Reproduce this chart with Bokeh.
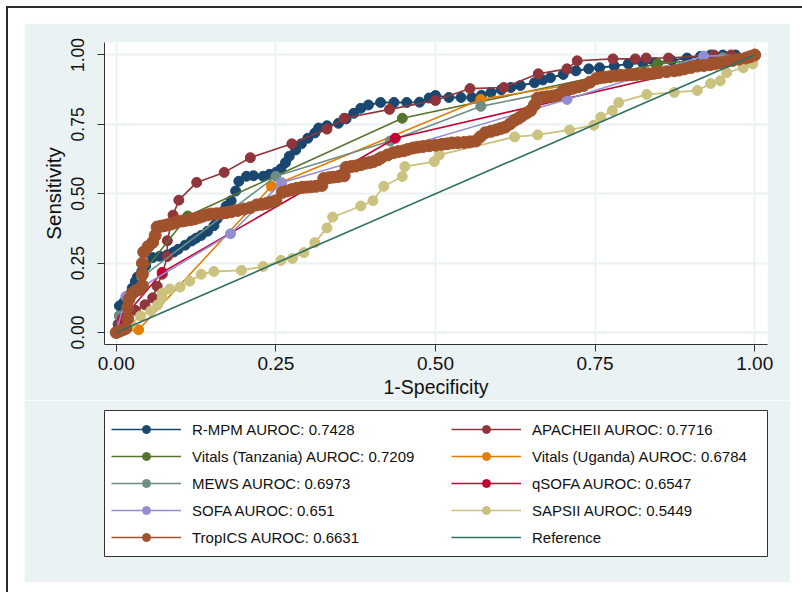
from bokeh.plotting import figure
from bokeh.models import Range1d, Legend, LegendItem, FixedTicker
from bokeh.layouts import column
from bokeh.embed import file_html
from bokeh.resources import INLINE

# ---------------- data ----------------
rmpm_x = [0, 0.003, 0.005, 0.005, 0.012, 0.02, 0.025, 0.03, 0.033, 0.04, 0.046, 0.057, 0.068, 0.08, 0.09, 0.097,
          0.108, 0.118, 0.125, 0.133, 0.143, 0.153, 0.158, 0.164, 0.172, 0.18, 0.187, 0.192, 0.204, 0.215, 0.23,
          0.24, 0.25, 0.258, 0.265, 0.271, 0.281, 0.29, 0.3, 0.311, 0.317, 0.33, 0.348, 0.36, 0.372, 0.383, 0.395,
          0.414, 0.435, 0.455, 0.475, 0.49, 0.5, 0.521, 0.54, 0.557, 0.572, 0.587, 0.603, 0.618, 0.633, 0.655,
          0.668, 0.68, 0.7, 0.72, 0.74, 0.757, 0.78, 0.802, 0.825, 0.844, 0.87, 0.894, 0.915, 0.931, 0.95, 0.97, 1.0]
rmpm_y = [0, 0.03, 0.06, 0.096, 0.11, 0.135, 0.16, 0.185, 0.2, 0.22, 0.24, 0.27, 0.275, 0.28, 0.29, 0.3,
          0.315, 0.33, 0.34, 0.35, 0.365, 0.385, 0.41, 0.427, 0.455, 0.475, 0.51, 0.545, 0.563, 0.565, 0.563,
          0.57, 0.577, 0.59, 0.612, 0.635, 0.658, 0.68, 0.7, 0.719, 0.737, 0.745, 0.754, 0.77, 0.79, 0.808, 0.82,
          0.829, 0.829, 0.829, 0.83, 0.845, 0.854, 0.847, 0.847, 0.847, 0.855, 0.865, 0.875, 0.883, 0.89, 0.9,
          0.91, 0.918, 0.93, 0.943, 0.95, 0.954, 0.96, 0.968, 0.97, 0.972, 0.98, 0.989, 0.995, 1.0, 1.0, 1.0, 1.0]

apache_x = [0, 0.005, 0.012, 0.03, 0.045, 0.057, 0.064, 0.072, 0.08, 0.08, 0.089, 0.098, 0.126, 0.169, 0.21,
            0.275, 0.33, 0.357, 0.428, 0.5, 0.554, 0.607, 0.661, 0.706, 0.722, 0.778, 0.813, 0.83, 0.865, 0.936,
            0.963, 1.0]
apache_y = [0, 0.03, 0.05, 0.08, 0.1, 0.125, 0.167, 0.21, 0.274, 0.331, 0.423, 0.477, 0.541, 0.577, 0.63,
            0.68, 0.733, 0.772, 0.804, 0.836, 0.879, 0.883, 0.932, 0.95, 0.979, 0.986, 0.986, 0.989, 0.989, 1.0,
            1.0, 1.0]

vtz_x = [0, 0.01, 0.04, 0.112, 0.448, 0.848, 1.0]
vtz_y = [0, 0.04, 0.21, 0.42, 0.772, 0.968, 1.0]

vug_x = [0, 0.035, 0.243, 0.571, 1.0]
vug_y = [0, 0.01, 0.527, 0.84, 1.0]

mews_x = [0, 0.005, 0.04, 0.25, 0.429, 0.571, 0.95, 1.0]
mews_y = [0, 0.06, 0.2, 0.563, 0.69, 0.815, 0.99, 1.0]

qsofa_x = [0, 0.01, 0.072, 0.437, 1.0]
qsofa_y = [0, 0.05, 0.217, 0.7, 1.0]

sofa_x = [0, 0.015, 0.179, 0.259, 0.706, 0.92, 1.0]
sofa_y = [0, 0.13, 0.356, 0.54, 0.84, 0.996, 1.0]

saps_x = [0, 0.005, 0.012, 0.023, 0.038, 0.054, 0.065, 0.072, 0.072, 0.084, 0.1, 0.115, 0.133, 0.153, 0.196,
          0.23, 0.258, 0.276, 0.294, 0.311, 0.33, 0.339, 0.383, 0.402, 0.419, 0.448, 0.452, 0.498, 0.506, 0.624,
          0.66, 0.71, 0.748, 0.759, 0.777, 0.787, 0.831, 0.874, 0.91, 0.931, 0.946, 0.956, 0.982, 0.997, 1.0]
saps_y = [0, 0.005, 0.01, 0.03, 0.06, 0.078, 0.1, 0.125, 0.142, 0.157, 0.164, 0.185, 0.21, 0.22, 0.224,
          0.238, 0.26, 0.267, 0.288, 0.324, 0.377, 0.416, 0.456, 0.475, 0.527, 0.562, 0.598, 0.616, 0.64, 0.705,
          0.712, 0.73, 0.747, 0.776, 0.8, 0.829, 0.858, 0.865, 0.872, 0.897, 0.907, 0.936, 0.954, 0.968, 1.0]

trop_x = [0, 0.005, 0.01, 0.015, 0.018, 0.018, 0.02, 0.025, 0.03, 0.036, 0.041, 0.041, 0.041, 0.043, 0.05,
          0.057, 0.061, 0.064, 0.07, 0.075, 0.08, 0.085, 0.091, 0.097, 0.104, 0.11, 0.117, 0.123, 0.13, 0.136,
          0.143, 0.149, 0.157, 0.165, 0.172, 0.18, 0.19, 0.2, 0.21, 0.22, 0.228, 0.235, 0.243, 0.25, 0.26, 0.268,
          0.275, 0.283, 0.291, 0.298, 0.305, 0.313, 0.322, 0.325, 0.333, 0.34, 0.348, 0.357, 0.36, 0.368, 0.375,
          0.383, 0.39, 0.397, 0.403, 0.41, 0.415, 0.425, 0.434, 0.442, 0.45, 0.457, 0.465, 0.472, 0.48, 0.49, 0.5,
          0.51, 0.518, 0.526, 0.535, 0.545, 0.554, 0.563, 0.57, 0.578, 0.587, 0.595, 0.602, 0.609, 0.617, 0.624,
          0.63, 0.635, 0.642, 0.649, 0.655, 0.66, 0.668, 0.675, 0.683, 0.69, 0.7, 0.708, 0.715, 0.723, 0.732,
          0.742, 0.752, 0.758, 0.765, 0.773, 0.782, 0.79, 0.8, 0.808, 0.815, 0.825, 0.833, 0.842, 0.85, 0.862,
          0.874, 0.882, 0.89, 0.9, 0.91, 0.92, 0.93, 0.938, 0.946, 0.955, 0.965, 0.975, 0.986, 0.993, 1.0]
trop_y = [0, 0.005, 0.01, 0.015, 0.05, 0.09, 0.12, 0.14, 0.15, 0.155, 0.17, 0.21, 0.25, 0.29, 0.31,
          0.325, 0.35, 0.38, 0.383, 0.385, 0.388, 0.39, 0.395, 0.4, 0.402, 0.405, 0.407, 0.41, 0.415, 0.42,
          0.424, 0.427, 0.428, 0.43, 0.432, 0.435, 0.44, 0.445, 0.45, 0.46, 0.462, 0.465, 0.47, 0.475, 0.505, 0.51,
          0.515, 0.52, 0.523, 0.524, 0.525, 0.527, 0.53, 0.555, 0.558, 0.56, 0.562, 0.565, 0.595, 0.598, 0.6,
          0.605, 0.61, 0.613, 0.616, 0.623, 0.63, 0.64, 0.648, 0.652, 0.655, 0.66, 0.665, 0.668, 0.67, 0.673, 0.675,
          0.678, 0.68, 0.683, 0.684, 0.685, 0.687, 0.69, 0.705, 0.72, 0.725, 0.73, 0.735, 0.74, 0.752, 0.765,
          0.772, 0.78, 0.79, 0.8, 0.82, 0.845, 0.848, 0.85, 0.852, 0.855, 0.872, 0.876, 0.88, 0.885, 0.89,
          0.902, 0.915, 0.918, 0.92, 0.922, 0.925, 0.927, 0.928, 0.929, 0.93, 0.931, 0.932, 0.934, 0.937, 0.94,
          0.943, 0.946, 0.95, 0.955, 0.96, 0.962, 0.965, 0.968, 0.972, 0.976, 0.98, 0.985, 0.989, 0.994, 1.0]

ref_x = [0, 1]
ref_y = [0, 1]

ticks = [0, 0.25, 0.5, 0.75, 1.0]
tick_labels = ["0.00", "0.25", "0.50", "0.75", "1.00"]

labels = ["R-MPM AUROC: 0.7428", "APACHEII AUROC: 0.7716",
          "Vitals (Tanzania) AUROC: 0.7209", "Vitals (Uganda) AUROC: 0.6784",
          "MEWS AUROC: 0.6973", "qSOFA AUROC: 0.6547",
          "SOFA AUROC: 0.651", "SAPSII AUROC: 0.5449",
          "TropICS AUROC: 0.6631", "Reference"]

# ---------------- styling ----------------
BG = "#eaf2f3"
FONT = "Liberation Sans"
series = [
    (rmpm_x, rmpm_y, "#1a476f", 10, 2.0),
    (apache_x, apache_y, "#90353b", 10, 1.6),
    (vtz_x, vtz_y, "#55752f", 10, 1.6),
    (vug_x, vug_y, "#e37e00", 10, 1.6),
    (mews_x, mews_y, "#6e8e84", 10, 1.6),
    (qsofa_x, qsofa_y, "#c10534", 10, 1.6),
    (sofa_x, sofa_y, "#938dd2", 10, 1.6),
    (saps_x, saps_y, "#cac27e", 10, 1.8),
    (trop_x, trop_y, "#a0522d", 12, 2.0),
]
REF_COLOR = "#2e6f63"

p = figure(width=766, height=377, output_backend="svg", toolbar_location=None,
           x_range=Range1d(-0.0184, 1.02), y_range=Range1d(-0.043, 1.045),
           min_border_left=74, min_border_right=15, min_border_top=19, min_border_bottom=53,
           background_fill_color="white", border_fill_color=BG, outline_line_color=None,
           margin=(23, 12, 0, 24))

for xs, ys, col, sz, lw in series:
    p.line(xs, ys, line_color=col, line_width=lw)
    p.scatter(xs, ys, marker="circle", size=sz, fill_color=col, line_color=col)
p.line(ref_x, ref_y, line_color=REF_COLOR, line_width=1.6)

for ax in (p.xaxis[0], p.yaxis[0]):
    ax.ticker = FixedTicker(ticks=ticks)
    ax.major_label_overrides = dict(zip(ticks, tick_labels))
    ax.axis_line_color = "#333333"
    ax.major_tick_line_color = "#333333"
    ax.major_tick_out = 7
    ax.major_tick_in = 0
    ax.minor_tick_line_color = None
    ax.major_label_text_font = FONT
    ax.axis_label_text_font = FONT
    ax.axis_label_text_font_style = "normal"
    ax.major_label_text_color = "#111111"
    ax.axis_label_text_color = "#111111"

p.xaxis.axis_label = "1-Specificity"
p.xaxis.major_label_text_font_size = "19px"
p.xaxis.axis_label_text_font_size = "19.5px"
p.xaxis.major_label_standoff = 5
p.xaxis.axis_label_standoff = 3

p.yaxis.axis_label = "Sensitivity"
p.yaxis.major_label_orientation = "vertical"
p.yaxis.major_label_text_font_size = "17.5px"
p.yaxis.axis_label_text_font_size = "20.5px"
p.yaxis.major_label_standoff = 13
p.yaxis.axis_label_standoff = 4

p.grid.grid_line_color = BG
p.grid.grid_line_width = 2
p.xgrid.ticker = FixedTicker(ticks=ticks)
p.ygrid.ticker = FixedTicker(ticks=ticks)

# ---------------- legend panel ----------------
lg = figure(width=766, height=182, output_backend="svg", toolbar_location=None,
            x_range=Range1d(0, 1), y_range=Range1d(0, 1),
            min_border_left=80, min_border_right=23, min_border_top=10, min_border_bottom=26,
            background_fill_color="white", border_fill_color=BG,
            outline_line_color="#333333", outline_line_width=1,
            margin=(0, 12, 10, 24))
lg.axis.visible = False
lg.grid.visible = False

items = []
for (xs, ys, col, sz, lw), lab in zip(series, labels[:9]):
    r1 = lg.line([5, 6], [5, 6], line_color=col, line_width=1.6)
    r2 = lg.scatter([5], [5], marker="circle", size=sz, fill_color=col, line_color=col)
    items.append(LegendItem(label=lab, renderers=[r1, r2]))
rr = lg.line([5, 6], [5, 6], line_color=REF_COLOR, line_width=1.6)
items.append(LegendItem(label=labels[9], renderers=[rr]))

left_items = items[0::2]
right_items = items[1::2]
for its, loc in ((left_items, (7, 9)), (right_items, (347, 9))):
    leg = Legend(items=its, location=loc, orientation="vertical",
                 glyph_width=70, glyph_height=20, label_height=20, label_standoff=11,
                 padding=9, spacing=7, margin=0,
                 label_text_font=FONT, label_text_font_size="15px", label_text_color="#111111",
                 border_line_color=None, background_fill_alpha=0)
    lg.add_layout(leg, "center")

layout = column(p, lg, spacing=0,
                styles={"box-shadow": "inset 6px 6px 0 0 #ffffff, inset 8px 8px 0 0 #2a2a2a",
                        "background-color": "white"})

open("out.html", "w").write(file_html(layout, INLINE))
